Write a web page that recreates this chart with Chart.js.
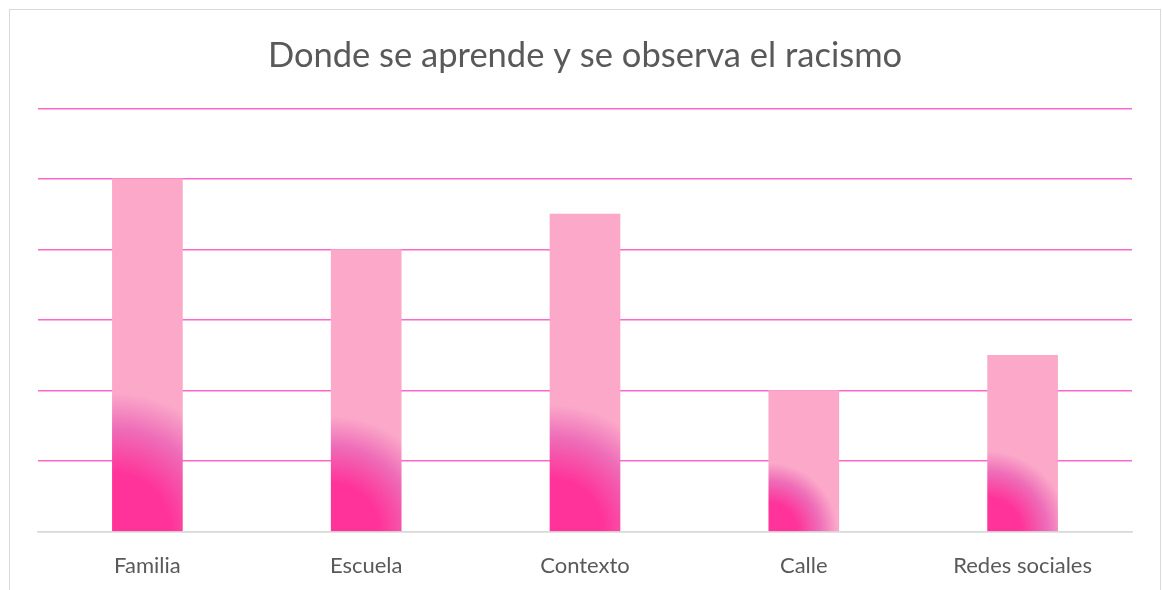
<!DOCTYPE html>
<html>
<head>
<meta charset="utf-8">
<script src="https://cdn.jsdelivr.net/npm/chart.js@4"></script>
<style>
  html, body { margin:0; padding:0; background:#fff; overflow:hidden; }
  #frame { position:absolute; left:9px; top:9px; width:1150px; height:600px; border:1px solid #d9d9d9; }
  #wrap { position:absolute; left:0; top:0; width:1162px; height:590px; }
</style>
</head>
<body>
<div id="frame"></div>
<div id="wrap"><canvas id="graf"></canvas></div>
<script>
const titulo = "Donde se aprende y se observa el racismo";
const categorias = ["Familia", "Escuela", "Contexto", "Calle", "Redes sociales"];
const valores = [5, 4, 4.5, 2, 2.5];
const yMax = 6;

const OSCURO = "#ff3399", MEDIO = "#ee6cb8", CLARO = "#fba8c9";
const ANCHO = 70;

function relleno(ctx) {
  const chart = ctx.chart;
  if (!chart.chartArea || ctx.type !== "data") return CLARO;
  const xs = chart.scales.x, ys = chart.scales.y;
  const izq = xs.getPixelForValue(ctx.dataIndex) - ANCHO / 2;
  const base = ys.getPixelForValue(0);
  const alto = base - ys.getPixelForValue(ctx.raw);
  const r = alto * 0.33 + 22;
  const g = chart.ctx.createRadialGradient(izq, base, 0, izq, base, r);
  g.addColorStop(0, OSCURO);
  g.addColorStop(0.42, OSCURO);
  g.addColorStop(0.74, MEDIO);
  g.addColorStop(1, CLARO);
  return g;
}

new Chart(document.getElementById("graf"), {
  type: "bar",
  data: {
    labels: categorias,
    datasets: [{ data: valores, backgroundColor: relleno, barThickness: ANCHO, borderWidth: 0 }]
  },
  options: {
    responsive: true,
    maintainAspectRatio: false,
    animation: false,
    layout: { padding: { left: 38, right: 30, top: 35, bottom: -10 } },
    plugins: {
      legend: { display: false },
      tooltip: { enabled: false },
      title: {
        display: true, text: titulo, color: "#595959",
        font: { family: "Lato", size: 34.5, weight: "normal" },
        padding: { top: 0, bottom: 32 }
      }
    },
    scales: {
      x: {
        grid: { display: false, drawTicks: false },
        border: { display: true, color: "#d9d9d9", width: 1.5 },
        ticks: { color: "#595959", font: { family: "Lato", size: 22 }, padding: 21 }
      },
      y: {
        min: 0, max: yMax,
        ticks: { display: false, stepSize: 1 },
        grid: { drawTicks: false, lineWidth: 1.5, color: c => c.tick && c.tick.value === 0 ? "#d9d9d9" : "#ff66cc" },
        border: { display: false }
      }
    }
  }
});
</script>
</body>
</html>
